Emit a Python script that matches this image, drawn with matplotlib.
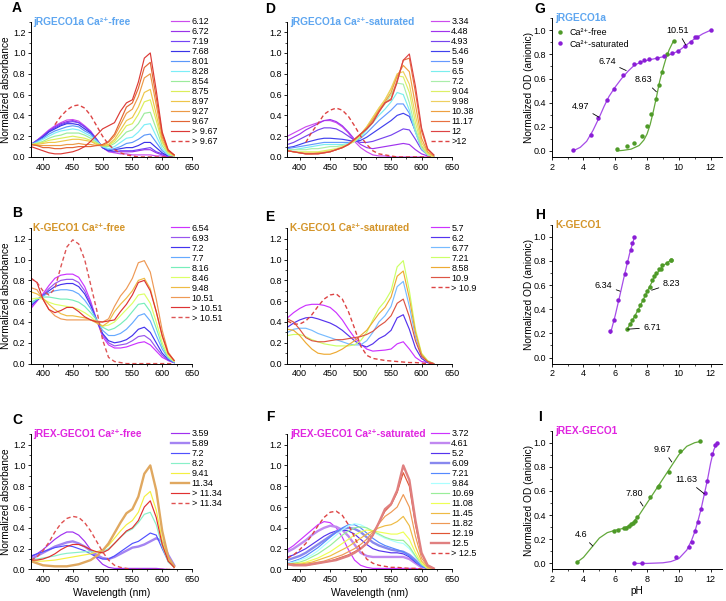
import numpy as np
import matplotlib
matplotlib.use("Agg")
import matplotlib.pyplot as plt
from matplotlib.ticker import MultipleLocator

plt.rcParams['font.family'] = ['Liberation Sans', 'DejaVu Sans']
plt.rcParams['axes.linewidth'] = 0.7
for ax_ in ('xtick', 'ytick'):
    plt.rcParams[ax_ + '.direction'] = 'out'
    plt.rcParams[ax_ + '.major.size'] = 2.5
    plt.rcParams[ax_ + '.minor.size'] = 1.4
    plt.rcParams[ax_ + '.major.width'] = 0.6
    plt.rcParams[ax_ + '.minor.width'] = 0.5
    plt.rcParams[ax_ + '.labelsize'] = 6.5
plt.rcParams['xtick.major.pad'] = 1.5
plt.rcParams['ytick.major.pad'] = 1.5

nan = np.nan
# wavelength grid (nm)
wl = [380, 390, 400, 410, 420, 430, 440, 450, 460, 470, 480, 490, 500,
      510, 520, 530, 540, 550, 560, 570, 580, 590, 600, 610, 620]

# ---- A: jRGECO1a Ca-free
a_labels = ['6.12', '6.72', '7.19', '7.68', '8.01', '8.28', '8.54', '8.75', '8.97', '9.27', '9.67', '> 9.67', '> 9.67']
a_colors = ['#CC4CEE', '#9A33EA', '#7444F6', '#3A33E8', '#5C98FA', '#7CEEF8', '#9CEC9C', '#DCEE5A', '#EEC64A', '#EC9A46', '#E26434', '#DC3A36', '#DD4444']
a_curves = [
    [.12, .16, .21, .26, .30, .33, .355, .36, .345, .30, .25, .17, .09, .05, .04, .03, .03, .02, .02, .02, .02, .01, .01, 0, 0],
    [.12, .16, .20, .25, .29, .32, .34, .35, .33, .29, .24, .17, .09, .06, .05, .05, .05, .05, .06, .07, .07, .04, .02, 0, 0],
    [.12, .16, .20, .25, .28, .31, .33, .34, .33, .29, .24, .17, .09, .06, .05, .06, .06, .06, .07, .08, .09, .05, .03, .01, 0],
    [.12, .15, .19, .24, .27, .30, .32, .32, .31, .27, .23, .16, .09, .06, .07, .08, .09, .09, .11, .14, .14, .09, .04, .01, 0],
    [.12, .15, .18, .22, .25, .27, .29, .30, .29, .25, .22, .16, .10, .07, .08, .10, .13, .14, .17, .21, .22, .14, .06, .02, 0],
    [.12, .14, .17, .20, .23, .25, .26, .27, .26, .23, .20, .15, .10, .08, .10, .14, .18, .19, .24, .31, .32, .20, .08, .02, .01],
    [.12, .13, .15, .18, .20, .21, .23, .23, .23, .21, .18, .14, .10, .10, .13, .18, .24, .26, .32, .42, .43, .27, .11, .03, .01],
    [.12, .13, .14, .16, .17, .18, .19, .20, .19, .18, .16, .13, .11, .11, .15, .22, .30, .32, .41, .53, .55, .35, .14, .04, .01],
    [.12, .12, .13, .14, .14, .15, .16, .17, .17, .16, .15, .12, .11, .12, .17, .26, .35, .38, .48, .62, .65, .41, .16, .05, .01],
    [.12, .11, .11, .11, .11, .11, .12, .12, .13, .12, .12, .11, .11, .14, .20, .31, .42, .46, .58, .76, .80, .50, .19, .06, .02],
    [.12, .11, .09, .09, .08, .08, .09, .09, .10, .10, .10, .11, .12, .15, .22, .35, .48, .52, .66, .86, .91, .57, .22, .06, .02],
    [.10, .08, .06, .04, .03, .03, .04, .05, .07, .10, .15, .21, .27, .30, .33, .44, .52, .55, .72, .95, 1.0, .64, .24, .07, .02],
    [nan, nan, nan, nan, .31, .39, .45, .49, .50, .47, .40, .30, .20, .12, .07, .04, .02, .01, 0, 0, 0, 0, 0, 0, 0],
]

# ---- D: jRGECO1a Ca-saturated
d_labels = ['3.34', '4.48', '4.93', '5.46', '5.9', '6.5', '7.2', '9.04', '9.98', '10.38', '11.17', '12', '>12']
d_colors = ['#CC4CEE', '#A033EE', '#7744EE', '#4040EE', '#6699FF', '#7AEEEE', '#AAEEAA', '#DDF066', '#EED060', '#EEA040', '#E87040', '#DD4444', '#DD4444']
d_curves = [
    [.20, .23, .26, .29, .31, .33, .35, .35, .33, .29, .23, .15, .09, .05, .02, .01, .01, 0, 0, 0, 0, 0, 0, 0, 0],
    [.16, .19, .22, .26, .29, .32, .35, .36, .34, .30, .24, .17, .12, .09, .08, .09, .10, .11, .12, .13, .12, .07, .03, .01, 0],
    [.12, .14, .17, .20, .23, .26, .28, .28, .27, .24, .20, .16, .14, .14, .15, .17, .19, .21, .24, .27, .26, .17, .07, .02, 0],
    [.09, .10, .12, .14, .155, .17, .18, .18, .175, .17, .16, .15, .16, .19, .23, .27, .31, .35, .40, .42, .39, .25, .10, .03, .01],
    [.08, .09, .10, .11, .12, .13, .14, .14, .14, .14, .14, .15, .18, .23, .29, .35, .40, .45, .51, .51, .42, .24, .08, .02, 0],
    [.07, .07, .08, .09, .10, .11, .12, .12, .12, .12, .13, .15, .19, .26, .33, .40, .46, .53, .62, .60, .45, .24, .08, .02, 0],
    [.07, .07, .07, .07, .08, .08, .09, .10, .10, .11, .12, .15, .20, .28, .36, .44, .51, .60, .71, .70, .52, .27, .09, .02, 0],
    [.06, .05, .05, .05, .05, .05, .06, .07, .08, .10, .12, .15, .21, .29, .38, .47, .55, .65, .78, .77, .62, .33, .11, .03, 0],
    [.06, .05, .04, .04, .04, .04, .05, .06, .07, .09, .12, .16, .22, .29, .38, .47, .55, .66, .80, .82, .70, .40, .14, .04, 0],
    [.06, .05, .04, .03, .03, .04, .04, .05, .07, .09, .12, .17, .22, .28, .36, .45, .53, .62, .78, .88, .82, .50, .18, .05, .01],
    [.06, .05, .04, .03, .03, .03, .04, .05, .07, .09, .12, .17, .22, .27, .34, .44, .52, .56, .74, .93, .95, .62, .25, .07, .02],
    [.06, .05, .04, .03, .03, .03, .04, .05, .07, .09, .12, .17, .22, .27, .33, .43, .52, .55, .72, .93, .99, .68, .28, .08, .02],
    [nan, nan, nan, .14, .24, .32, .41, .45, .47, .45, .39, .30, .20, .12, .06, .03, .02, .01, 0, 0, 0, 0, 0, 0, 0],
]

# ---- B: K-GECO1 Ca-free
b_labels = ['6.54', '6.93', '7.2', '7.7', '8.16', '8.46', '9.48', '10.51', '> 10.51', '> 10.51']
b_colors = ['#CC33FF', '#9955EE', '#4433EE', '#66AAFF', '#77EEBB', '#DDFF66', '#EEBB44', '#EE9955', '#DD3333', '#DD5555']
b_curves = [
    [.53, .60, .67, .75, .82, .85, .86, .86, .83, .74, .60, .42, .26, .18, .15, .15, .16, .18, .20, .21, .18, .12, .06, .03, .01],
    [.55, .61, .66, .72, .77, .80, .81, .81, .78, .70, .58, .42, .28, .20, .17, .18, .19, .22, .26, .27, .23, .15, .08, .03, .01],
    [.56, .61, .65, .70, .74, .76, .77, .77, .74, .67, .56, .42, .29, .22, .20, .21, .23, .27, .33, .35, .30, .20, .10, .04, .01],
    [.57, .62, .65, .68, .70, .71, .71, .70, .67, .61, .53, .42, .32, .27, .27, .29, .33, .39, .46, .48, .41, .27, .14, .05, .01],
    [.59, .62, .64, .64, .63, .62, .62, .61, .59, .55, .49, .42, .35, .32, .34, .38, .43, .50, .57, .58, .50, .34, .17, .06, .02],
    [.62, .63, .62, .59, .57, .56, .55, .54, .52, .49, .45, .40, .36, .37, .40, .46, .52, .58, .66, .67, .58, .40, .20, .07, .02],
    [.69, .67, .63, .57, .52, .48, .46, .46, .45, .44, .42, .39, .36, .40, .50, .57, .63, .70, .80, .82, .72, .50, .26, .09, .03],
    [.73, .71, .62, .52, .46, .43, .42, .42, .42, .42, .42, .41, .40, .43, .55, .65, .72, .82, .97, .99, .88, .62, .32, .11, .03],
    [.82, .78, .62, .52, .49, .51, .54, .54, .50, .45, .42, .40, .40, .41, .42, .50, .57, .66, .78, .80, .70, .50, .27, .10, .03],
    [.82, .78, .70, .66, .72, .93, 1.12, 1.19, 1.15, 1.0, .76, .52, .23, .06, .02, .01, 0, 0, 0, 0, 0, 0, 0, 0, 0],
]

# ---- E: K-GECO1 Ca-saturated
e_labels = ['5.7', '6.2', '6.77', '7.21', '8.58', '10.9', '> 10.9']
e_colors = ['#CC33FF', '#5533EE', '#77BBFF', '#CCFF66', '#EEAA33', '#DD5544', '#DD4444']
e_curves = [
    [.44, .49, .53, .56, .57, .57, .56, .54, .49, .42, .33, .25, .19, .14, .12, .125, .13, .14, .19, .21, .14, .06, .02, .01, 0],
    [.35, .39, .42, .44, .445, .43, .41, .39, .36, .32, .27, .22, .18, .16, .19, .24, .27, .32, .44, .47, .33, .15, .05, .01, 0],
    [.30, .33, .34, .34, .32, .29, .27, .25, .23, .21, .19, .18, .18, .22, .30, .40, .46, .55, .74, .79, .55, .26, .08, .02, 0],
    [.27, .28, .28, .26, .23, .21, .19, .18, .17, .17, .17, .18, .22, .30, .42, .53, .60, .70, .93, .99, .70, .33, .10, .03, 0],
    [.33, .32, .27, .20, .14, .10, .09, .09, .11, .14, .18, .22, .27, .32, .40, .48, .54, .64, .84, .89, .63, .30, .09, .02, 0],
    [.43, .40, .33, .25, .22, .21, .21, .22, .23, .23, .24, .25, .26, .28, .31, .36, .40, .46, .58, .62, .45, .22, .07, .02, 0],
    [.41, .38, .38, .41, .47, .55, .62, .66, .67, .62, .50, .34, .17, .08, .05, .04, .03, .025, .02, .015, .01, .01, .005, 0, 0],
]

# ---- C: jREX-GECO1 Ca-free
c_labels = ['3.59', '5.89', '7.2', '8.2', '9.41', '11.34', '> 11.34', '> 11.34']
c_colors = ['#A030F0', '#A484F2', '#5050FF', '#88F0C8', '#F4F040', '#E0A860', '#E03030', '#E05050']
c_curves = [
    [.12, .15, .19, .24, .29, .33, .36, .36, .33, .27, .19, .11, .05, .02, .01, .01, .01, .01, .01, .01, .01, .01, .005, 0, 0],
    [.10, .13, .16, .19, .22, .24, .26, .27, .25, .22, .18, .14, .11, .10, .12, .15, .18, .21, .22, .24, .27, .30, .27, .14, .04],
    [.13, .15, .17, .19, .21, .22, .23, .22, .20, .18, .15, .12, .10, .10, .13, .17, .21, .25, .27, .31, .35, .33, .20, .08, .03],
    [.10, .10, .11, .12, .13, .145, .155, .16, .165, .17, .17, .17, .17, .20, .25, .31, .36, .39, .45, .53, .55, .43, .22, .07, .02],
    [.09, .08, .08, .085, .09, .10, .11, .12, .13, .14, .15, .17, .19, .23, .30, .37, .43, .47, .55, .70, .75, .57, .28, .09, .02],
    [.08, .06, .04, .035, .03, .03, .03, .04, .05, .07, .09, .13, .18, .25, .35, .45, .54, .58, .70, .92, 1.0, .76, .37, .12, .03],
    [.09, .09, .10, .12, .15, .19, .22, .24, .24, .22, .19, .17, .16, .19, .25, .31, .37, .40, .47, .60, .66, .50, .24, .08, .02],
    [.09, .12, .18, .26, .36, .44, .49, .51, .50, .45, .37, .27, .17, .09, .04, .02, .01, 0, 0, 0, 0, 0, 0, 0, 0],
]

# ---- F: jREX-GECO1 Ca-saturated
f_labels = ['3.72', '4.61', '5.2', '6.09', '7.21', '9.84', '10.69', '11.08', '11.45', '11.82', '12.19', '12.5', '> 12.5']
f_colors = ['#CC33FF', '#C088F0', '#5533EE', '#8888EE', '#5588FF', '#AAFFFF', '#99EE99', '#EEFF55', '#EEBB44', '#EE9955', '#E05533', '#E08080', '#DD4444']
f_curves = [
    [.19, .23, .28, .33, .38, .43, .46, .45, .40, .31, .19, .09, .04, .02, .01, .01, .01, .01, .01, .01, .01, .01, 0, 0, 0],
    [.17, .20, .24, .28, .33, .37, .40, .42, .41, .38, .32, .24, .16, .13, .12, .12, .12, .12, .12, .12, .10, .06, .02, .01, 0],
    [.12, .14, .17, .20, .24, .28, .32, .35, .37, .38, .37, .34, .29, .24, .20, .18, .17, .16, .16, .15, .12, .07, .03, .01, 0],
    [.09, .11, .13, .16, .20, .24, .28, .32, .36, .39, .40, .39, .36, .31, .26, .23, .21, .19, .18, .17, .14, .09, .04, .01, 0],
    [.06, .08, .10, .13, .17, .21, .26, .31, .36, .40, .43, .43, .40, .35, .30, .26, .23, .21, .19, .17, .13, .08, .03, .01, 0],
    [.06, .07, .09, .11, .14, .18, .23, .28, .33, .38, .42, .44, .43, .40, .36, .33, .30, .28, .26, .25, .20, .12, .05, .01, 0],
    [.05, .06, .07, .09, .12, .15, .19, .23, .28, .33, .37, .40, .41, .40, .37, .34, .31, .29, .28, .28, .22, .13, .05, .01, 0],
    [.05, .05, .06, .07, .09, .11, .14, .17, .21, .25, .29, .33, .36, .38, .37, .36, .35, .34, .34, .36, .29, .16, .06, .01, 0],
    [.05, .05, .05, .06, .07, .09, .11, .13, .16, .19, .22, .26, .30, .34, .37, .40, .42, .43, .46, .51, .42, .22, .08, .02, 0],
    [.05, .05, .05, .05, .06, .07, .08, .10, .12, .14, .17, .20, .24, .29, .36, .44, .51, .55, .60, .72, .60, .32, .11, .03, 0],
    [.05, .05, .04, .04, .05, .06, .07, .08, .10, .12, .14, .17, .20, .25, .33, .45, .56, .62, .74, .93, .80, .43, .15, .04, .01],
    [.05, .04, .04, .04, .05, .06, .07, .08, .09, .11, .13, .16, .20, .25, .33, .45, .58, .63, .76, 1.0, .86, .47, .16, .04, .01],
    [.11, .14, .19, .25, .33, .42, .50, .55, .56, .52, .43, .31, .19, .10, .06, .04, .03, .02, .02, .015, .01, .01, .005, 0, 0],
]

# ---- titrations (pH, normalized OD)
g_free_ph = [6.12, 6.72, 7.19, 7.68, 8.01, 8.28, 8.54, 8.75, 8.97, 9.27, 9.67]
g_free_od = [0.02, 0.04, 0.065, 0.125, 0.21, 0.305, 0.43, 0.545, 0.65, 0.80, 0.91]
g_free_fit_ph = [6.1, 6.5, 7.0, 7.5, 7.8, 8.0, 8.2, 8.4, 8.6, 8.8, 9.0, 9.2, 9.4, 9.66]
g_free_fit_od = [0.0, 0.005, 0.015, 0.045, 0.09, 0.14, 0.22, 0.33, 0.45, 0.58, 0.68, 0.77, 0.84, 0.91]
g_sat_ph = [3.34, 4.48, 4.93, 5.46, 5.9, 6.5, 7.2, 7.55, 7.8, 8.1, 8.6, 9.04, 9.55, 9.98, 10.38, 10.74, 11.0, 11.17, 12.0]
g_sat_od = [0.005, 0.135, 0.27, 0.425, 0.515, 0.63, 0.72, 0.738, 0.75, 0.76, 0.773, 0.787, 0.81, 0.83, 0.87, 0.905, 0.94, 0.947, 1.0]
g_sat_fit_ph = [3.34, 3.8, 4.2, 4.6, 5.0, 5.3, 5.6, 6.0, 6.4, 6.8, 7.2, 7.6, 8.0, 8.5, 9.0, 9.5, 10.0, 10.5, 11.0, 11.5, 12.0]
g_sat_fit_od = [0.0, 0.03, 0.08, 0.17, 0.28, 0.37, 0.45, 0.53, 0.60, 0.66, 0.71, 0.735, 0.75, 0.765, 0.78, 0.80, 0.83, 0.88, 0.93, 0.97, 1.0]

h_free_ph = [6.74, 6.93, 7.07, 7.22, 7.41, 7.56, 7.72, 7.87, 8.02, 8.16, 8.31, 8.46, 8.58, 8.73, 8.86, 8.96, 9.23, 9.48, 9.52]
h_free_od = [0.235, 0.275, 0.31, 0.345, 0.39, 0.435, 0.48, 0.515, 0.55, 0.585, 0.64, 0.675, 0.70, 0.73, 0.73, 0.77, 0.78, 0.805, 0.81]
h_free_fit_ph = [6.74, 7.0, 7.5, 8.0, 8.5, 9.0, 9.52]
h_free_fit_od = [0.235, 0.29, 0.41, 0.545, 0.675, 0.76, 0.81]
h_sat_ph = [5.7, 5.92, 6.2, 6.59, 6.77, 6.97, 7.07, 7.21]
h_sat_od = [0.22, 0.31, 0.48, 0.695, 0.795, 0.89, 0.945, 1.0]
h_sat_fit_ph = [5.7, 6.0, 6.3, 6.6, 6.9, 7.21]
h_sat_fit_od = [0.20, 0.35, 0.52, 0.695, 0.86, 1.0]

i_free_ph = [3.59, 5.89, 6.17, 6.53, 6.69, 6.86, 7.01, 7.12, 7.22, 7.37, 8.2, 8.72, 8.74, 9.41, 10.1, 11.34]
i_free_od = [0.014, 0.27, 0.276, 0.293, 0.293, 0.307, 0.323, 0.337, 0.354, 0.384, 0.552, 0.635, 0.644, 0.757, 0.93, 1.01]
i_free_fit_ph = [3.6, 4.0, 4.5, 5.0, 5.5, 6.0, 6.5, 7.0, 7.5, 8.0, 8.5, 9.0, 9.5, 10.0, 10.5, 11.0, 11.34]
i_free_fit_od = [0.01, 0.05, 0.13, 0.21, 0.255, 0.275, 0.29, 0.32, 0.40, 0.50, 0.60, 0.70, 0.80, 0.90, 0.97, 1.0, 1.01]
i_sat_ph = [7.2, 7.7, 9.8, 10.65, 10.8, 11.0, 11.18, 11.4, 11.62, 11.8, 12.1, 12.28, 12.42]
i_sat_od = [0.0, 0.0, 0.052, 0.133, 0.18, 0.268, 0.343, 0.448, 0.586, 0.68, 0.91, 0.978, 1.0]
i_sat_fit_ph = [7.2, 8.0, 9.0, 9.5, 10.0, 10.5, 10.8, 11.0, 11.2, 11.4, 11.6, 11.8, 12.0, 12.2, 12.42]
i_sat_fit_od = [0.0, 0.0, 0.005, 0.015, 0.04, 0.11, 0.19, 0.26, 0.35, 0.45, 0.57, 0.69, 0.83, 0.94, 1.0]

# pKa annotations: (text, text pos, point)
g_notes = [('4.97', (3.79, 0.37), (4.97, 0.28)), ('6.74', (5.47, 0.74), (6.69, 0.666)),
           ('8.63', (7.79, 0.59), (8.59, 0.49)), ('10.51', (9.9, 1.0), (10.44, 0.878))]
h_notes = [('6.34', (5.25, 0.60), (6.3, 0.55)), ('8.23', (9.55, 0.613), (8.29, 0.558)),
           ('6.71', (8.33, 0.249), (6.78, 0.235))]
i_notes = [('4.6', (3.85, 0.24), (4.59, 0.144)), ('7.80', (7.22, 0.58), (7.75, 0.475)),
           ('9.67', (9.0, 0.945), (9.56, 0.84)), ('11.63', (10.48, 0.696), (11.6, 0.577))]

BLUE_T = '#5EA6F0'
GOLD_T = '#D4952A'
MAG_T = '#E024E0'
GREEN = '#4E9A28'
GREEN_L = '#62A83A'
PURPLE = '#8A1ED6'
PURPLE_L = '#A64CE8'

fig = plt.figure(figsize=(7.26, 6.01), dpi=100)
col_x = [0.0427, 0.396, 0.7599]
col_w = [0.2218, 0.2266, 0.2342]
row_y = [0.7388, 0.3950, 0.0525]


def spectra(col, row, title, tcolor, labels, colors, curves, thick=(), xlabel=False):
    ax = fig.add_axes([col_x[col], row_y[row], col_w[col], 0.225])
    for i, (lab, c, y) in enumerate(zip(labels, colors, curves)):
        dashed = i == len(curves) - 1
        lw = 1.7 if i in thick else 0.85
        ax.plot(wl, y, color=c, lw=1.0 if dashed else lw,
                ls=(0, (3, 2)) if dashed else '-', label=lab)
    ax.set_xlim(380, 650)
    ax.set_ylim(0, 1.3)
    ax.xaxis.set_major_locator(MultipleLocator(50))
    ax.xaxis.set_minor_locator(MultipleLocator(25))
    ax.set_yticks(np.arange(0, 1.21, 0.2))
    ax.set_yticklabels(['%.1f' % v for v in np.arange(0, 1.21, 0.2)])
    ax.yaxis.set_minor_locator(MultipleLocator(0.1))
    ax.spines['top'].set_visible(False)
    ax.spines['right'].set_visible(False)
    ax.text(0.015, 1.0, title, transform=ax.transAxes, color=tcolor,
            fontsize=7.3, fontweight='bold', ha='left', va='center')
    ax.legend(loc='upper left', bbox_to_anchor=(0.872, 1.035), frameon=False,
              fontsize=6.5, handlelength=2.0, handletextpad=0.25,
              labelspacing=0.11, borderpad=0, borderaxespad=0)
    if col == 0:
        ax.set_ylabel('Normalized absorbance', fontsize=7.3)
        ax.yaxis.set_label_coords(-0.125, 0.5)
    if xlabel:
        ax.set_xlabel('Wavelength (nm)', fontsize=7.3)
        ax.xaxis.set_label_coords(0.5, -0.135)
    return ax


def titration(row, title, tcolor, free, sat, notes, legend=False, xlabel=False):
    ax = fig.add_axes([col_x[2], row_y[row], col_w[2], 0.231])
    fph, fod, ffx, ffy = free
    sph, sod, sfx, sfy = sat
    ax.plot(ffx, ffy, color=GREEN_L, lw=0.9)
    ax.plot(sfx, sfy, color=PURPLE_L, lw=0.9)
    ax.plot(fph, fod, 'o', color=GREEN, ms=3.2, mew=0, label='Ca²⁺-free')
    ax.plot(sph, sod, 'o', color=PURPLE, ms=3.2, mew=0, label='Ca²⁺-saturated')
    for txt, tpos, pt in notes:
        ax.annotate(txt, xy=pt, xytext=tpos, fontsize=6.5, ha='center', va='center',
                    arrowprops=dict(arrowstyle='-', lw=0.6, color='black',
                                    shrinkA=1, shrinkB=0))
    ax.set_xlim(2, 12.7)
    ax.set_ylim(-0.05, 1.1)
    ax.xaxis.set_major_locator(MultipleLocator(2))
    ax.xaxis.set_minor_locator(MultipleLocator(1))
    ax.set_yticks(np.arange(0, 1.01, 0.2))
    ax.set_yticklabels(['%.1f' % v for v in np.arange(0, 1.01, 0.2)])
    ax.yaxis.set_minor_locator(MultipleLocator(0.1))
    ax.spines['top'].set_visible(False)
    ax.spines['right'].set_visible(False)
    ax.text(0.02, 1.0, title, transform=ax.transAxes, color=tcolor,
            fontsize=7.3, fontweight='bold', ha='left', va='center')
    ax.set_ylabel('Normalized OD (anionic)', fontsize=7.3)
    ax.yaxis.set_label_coords(-0.105, 0.5)
    if legend:
        ax.legend(loc='upper left', bbox_to_anchor=(0.02, 0.93), frameon=False,
                  fontsize=6.4, handlelength=1.0, handletextpad=0.6,
                  labelspacing=0.3, borderpad=0, borderaxespad=0)
    if xlabel:
        ax.set_xlabel('pH', fontsize=7.3)
        ax.xaxis.set_label_coords(0.5, -0.12)
    return ax


spectra(0, 0, 'jRGECO1a Ca²⁺-free', BLUE_T, a_labels, a_colors, a_curves)
spectra(1, 0, 'jRGECO1a Ca²⁺-saturated', BLUE_T, d_labels, d_colors, d_curves)
spectra(0, 1, 'K-GECO1 Ca²⁺-free', GOLD_T, b_labels, b_colors, b_curves)
spectra(1, 1, 'K-GECO1 Ca²⁺-saturated', GOLD_T, e_labels, e_colors, e_curves)
spectra(0, 2, 'jREX-GECO1 Ca²⁺-free', MAG_T, c_labels, c_colors, c_curves,
        thick=(1, 5), xlabel=True)
spectra(1, 2, 'jREX-GECO1 Ca²⁺-saturated', MAG_T, f_labels, f_colors, f_curves,
        thick=(1, 3, 11), xlabel=True)

titration(0, 'jRGECO1a', BLUE_T, (g_free_ph, g_free_od, g_free_fit_ph, g_free_fit_od),
          (g_sat_ph, g_sat_od, g_sat_fit_ph, g_sat_fit_od), g_notes, legend=True)
titration(1, 'K-GECO1', GOLD_T, (h_free_ph, h_free_od, h_free_fit_ph, h_free_fit_od),
          (h_sat_ph, h_sat_od, h_sat_fit_ph, h_sat_fit_od), h_notes)
titration(2, 'jREX-GECO1', MAG_T, (i_free_ph, i_free_od, i_free_fit_ph, i_free_fit_od),
          (i_sat_ph, i_sat_od, i_sat_fit_ph, i_sat_fit_od), i_notes, xlabel=True)

letters = [('A', 17, 1), ('B', 17, 206), ('C', 17, 413), ('D', 270, 2), ('E', 270, 210),
           ('F', 270, 410), ('G', 540, 2), ('H', 540, 208), ('I', 540, 410)]
for s, px, py in letters:
    fig.text(px / 726, 1 - py / 601, s, fontsize=10, fontweight='bold',
             ha='center', va='top')

fig.savefig('out.png', dpi=100)
